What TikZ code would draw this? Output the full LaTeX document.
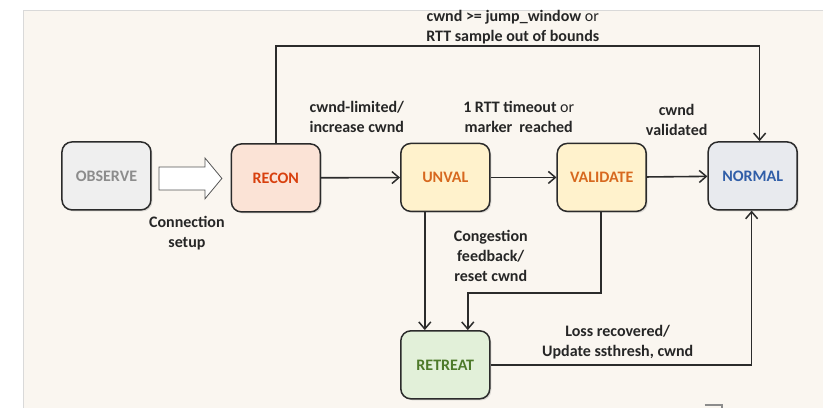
\documentclass[tikz,border=0pt]{standalone}
\usepackage{fontspec}
\setmainfont{Carlito}
\usepackage{xcolor}
\usepackage{tikz}
\usetikzlibrary{arrows.meta, shadows}

\definecolor{paper}{HTML}{FAF6F0}
\definecolor{edge}{HTML}{2B2B2B}
\definecolor{obsfill}{HTML}{EFEFEF}
\definecolor{obstext}{HTML}{8C8C8C}
\definecolor{reconfill}{HTML}{FBE3D6}
\definecolor{recontext}{HTML}{D8400E}
\definecolor{unvalfill}{HTML}{FFF2CC}
\definecolor{unvaltext}{HTML}{D7691F}
\definecolor{normfill}{HTML}{E8EAEE}
\definecolor{normtext}{HTML}{305EA8}
\definecolor{retrfill}{HTML}{E2F0D9}
\definecolor{retrtext}{HTML}{4E7A2A}

\begin{document}
\begin{tikzpicture}[
		x = 1pt, y = -1pt,
		font = \fontsize{16}{20}\selectfont\bfseries,
		state/.style  = {draw=edge, line width=1.5pt, rounded corners=10pt,
			minimum width=89pt, minimum height=68pt, inner sep=0pt,
			drop shadow={shadow xshift=1.5pt, shadow yshift=-1.5pt, opacity=0.25}},
		observe/.style  = {state, fill=obsfill, text=obstext},
		recon/.style    = {state, fill=reconfill, text=recontext},
		unval/.style    = {state, fill=unvalfill, text=unvaltext},
		normal/.style   = {state, fill=normfill, text=normtext},
		retreat/.style  = {state, fill=retrfill, text=retrtext},
		trans/.style    = {draw=edge, line width=1.6pt,
			-{Straight Barb[length=7pt, width=12pt, line width=1.5pt]}},
		lbl/.style      = {align=center, inner sep=0pt, text=black!85}
	]
	% page and background
	\fill[white] (0,0) rectangle (823,408);
	\fill[paper] (23,10) rectangle (823,408);
	\draw[black!15, line width=0.8pt] (23,408) -- (23,10) -- (823,10);
	\draw[black!45, line width=2pt] (705,405) -- (722,405) -- (722,408);

	% states
	\node[observe]  (observe)  at (106.5,176) {OBSERVE};
	\node[recon]    (recon)    at (276,178)   {RECON};
	\node[unval]    (unval)    at (445.5,177.5) {UNVAL};
	\node[unval]    (validate) at (602,177.5) {VALIDATE};
	\node[normal]   (normal)   at (753,176)   {NORMAL};
	\node[retreat]  (retreat)  at (445.5,365) {RETREAT};

	% hollow arrow for connection setup
	\coordinate (tail) at (159,178.5);
	\draw[fill=white, draw=edge!80, line width=0.8pt]
		(tail) ++(0,-11.5) -- ++(46,0) -- ++(0,-9) -- ++(17,20.5)
		-- ++(-17,20.5) -- ++(0,-9) -- ++(-46,0) -- cycle;

	% transitions
	\draw[trans] (recon) -- (unval);
	\draw[trans] (unval) -- (validate);
	\draw[trans] (validate) -- (normal);
	\draw[trans] (recon.north) -- ++(0,-97) -| ([xshift=7pt]normal.north);
	\draw[trans] ([xshift=-20.5pt]unval.south) -- ([xshift=-20.5pt]retreat.north);
	\draw[trans] ([xshift=-1pt]validate.south) -- ++(0,81) -| ([xshift=22.5pt]retreat.north);
	\draw[trans] (retreat.east) -| ([xshift=-1pt]normal.south);

	% labels
	\node[lbl] (ljump)  at (513,27)  {cwnd >= jump\_window {\mdseries or}\\RTT sample out of bounds};
	\node[lbl] (lrecon) at (357,117) {cwnd-limited/\\increase cwnd};
	\node[lbl] (lrtt)   at (519,117) {1 RTT timeout {\mdseries or}\\marker\ \ reached};
	\node[lbl] (lvalid) at (677,120) {cwnd\\validated};
	\node[lbl] (lsetup) at (187,233) {Connection\\setup};
	\node[lbl] (lcong)  at (491,256) {Congestion\\feedback/\\reset cwnd};
	\node[lbl] (lloss)  at (618,342) {Loss recovered/\\Update ssthresh, cwnd};
\end{tikzpicture}
\end{document}
